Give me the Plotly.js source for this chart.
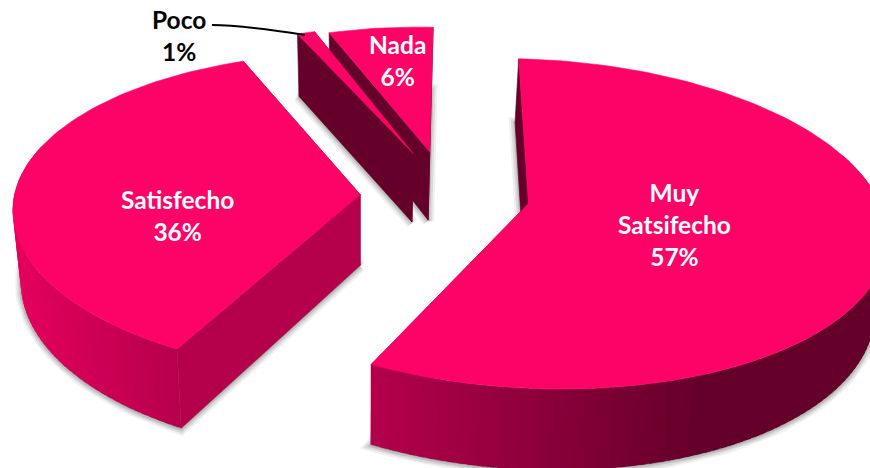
<!DOCTYPE html>
<html>
<head>
<meta charset="utf-8">
<script src="https://cdn.plot.ly/plotly-3.0.1.min.js"></script>
<style>html,body{margin:0;padding:0;background:#fff;overflow:hidden}#chart{width:870px;height:468px}</style>
</head>
<body>
<div id="chart"></div>
<script>
// Data
const sliceNames = ['Muy Satsifecho', 'Satisfecho', 'Poco', 'Nada'];
const sliceValues = [57, 36, 1, 6];

// Look
const explode = [0.22, 0.25, 0.25, 0.25];
const turnNudge = [-1.5, 0, -0.5, -1];
const shiftX = [0.012, -0.004, -0.007, -0.009];
const shiftZ = [-0.005, 0.018, -0.03, -0.03];
const radius = [1, 0.99, 0.94, 0.92];
const topColor = '#fe0367';
const darkColor = [101, 0, 42];
const midColor = [181, 0, 76];
const brightColor = [228, 0, 92];
const faceColors = {start: ['rgb(101,0,42)', 'rgb(181,0,76)', 'rgb(101,0,42)', 'rgb(101,0,42)'],
                    end:   ['rgb(181,0,76)', 'rgb(181,0,76)', 'rgb(101,0,42)', 'rgb(101,0,42)']};

// Projection of the 3D pie (unit radius) onto the page
const cam = {vx: 295, A: 348, p: 0.122, hy: -1116, C: 1306, E: 70.5, baseScale: 0.977, baseCx: 360};
const pivot = {x: 0.44, z: 0.03};
const startAngle = 4.4;
const rad = d => d * Math.PI / 180;

function project(x, z, base) {
  const w = 1 - cam.p * z;
  let X = cam.vx + cam.A * x / w;
  let Y = cam.hy + cam.C / w;
  if (base) { X = cam.baseCx + (X - cam.baseCx) * cam.baseScale; Y += cam.E / w; }
  return [X, Y];
}

const total = sliceValues.reduce((a, b) => a + b, 0);
let cursor = startAngle;
const slices = sliceValues.map((v, i) => {
  const a0 = cursor + turnNudge[i], a1 = cursor + v / total * 360 + turnNudge[i];
  cursor += v / total * 360;
  const mid = rad((a0 + a1) / 2);
  const o = {x: pivot.x + explode[i] * Math.sin(mid) + shiftX[i], z: pivot.z - explode[i] * Math.cos(mid) + shiftZ[i]};
  const r = radius[i];
  const rim = (a, base) => project(o.x + r * Math.sin(rad(a)), o.z - r * Math.cos(rad(a)), base);
  const steps = Math.max(2, Math.ceil((a1 - a0) / 1.5));
  const angles = [];
  for (let k = 0; k <= steps; k++) angles.push(a0 + (a1 - a0) * k / steps);
  return {i, a0, a1, o, rim, angles, apex: b => project(o.x, o.z, b)};
});

function poly(pts, color, lineWidth) {
  const xs = pts.map(p => p[0]), ys = pts.map(p => p[1]);
  xs.push(xs[0]); ys.push(ys[0]);
  return {type: 'scatter', mode: 'lines', x: xs, y: ys, fill: 'toself', fillcolor: color,
          line: {color: color, width: lineWidth === undefined ? 0.6 : lineWidth}, hoverinfo: 'skip', showlegend: false};
}
const mix = (a, b, t) => 'rgb(' + a.map((c, n) => Math.round(c + (b[n] - c) * t)).join(',') + ')';

function sideColor(i, x) {
  if (i === 0) { const t = Math.min(1, Math.max(0, (x - 372) / (700 - 372))); return mix(midColor, darkColor, t); }
  if (i === 1) { const t = Math.min(1, Math.max(0, (x - 15) / (180 - 15))); return mix(brightColor, midColor, t); }
  return mix(darkColor, darkColor, 0);
}

const traces = [];
// soft shadow of the base
[[12, 0.08], [8, 0.12], [4, 0.18]].forEach(([wd, al]) => {
  slices.forEach(s => {
    const pts = [s.apex(true)].concat(s.angles.map(a => s.rim(a, true)));
    traces.push(poly(pts.map(p => [p[0], p[1] + 1]), 'rgba(70,70,70,' + al + ')', wd));
  });
});
// paint back to front
[3, 2, 1, 0].forEach(idx => {
  const s = slices[idx];
  const face = (a, color) => traces.push(poly([s.apex(false), s.rim(a, false), s.rim(a, true), s.apex(true)], color));
  face(s.a1, faceColors.end[idx]);
  face(s.a0, faceColors.start[idx]);
  // outer wall: painted from high angle to low angle, each band running under the next to hide seams
  const span = s.angles.slice(0, -1).map((a, k) => [a, s.angles[k + 1]])
    .filter(([a]) => -Math.cos(rad(a)) > -0.3)
    .sort((p, q) => q[0] - p[0]);
  span.forEach(([a, b]) => {
    const low = Math.max(s.a0, a - 1), pA = s.rim(a, false), pB = s.rim(b, false);
    traces.push(poly([s.rim(low, false), pB, s.rim(b, true), s.rim(low, true)],
      sideColor(idx, (pA[0] + pB[0]) / 2), 0));
  });
  traces.push(poly([s.apex(false)].concat(s.angles.map(a => s.rim(a, false))), topColor));
});

const label = (text, x, y, color) => ({text, x, y, xref: 'x', yref: 'y', showarrow: false, align: 'center',
  font: {family: 'Lato, Carlito, sans-serif', size: 24.5, color: color}});

const layout = {
  width: 870, height: 468, margin: {l: 0, r: 0, t: 0, b: 0},
  paper_bgcolor: '#fff', plot_bgcolor: '#fff', showlegend: false, hovermode: false,
  xaxis: {range: [0, 870], visible: false, fixedrange: true},
  yaxis: {range: [468, 0], visible: false, fixedrange: true},
  shapes: [{type: 'path', path: 'M 212 25 Q 240 25 305 35', line: {color: '#000', width: 1.8}}],
  annotations: [
    label('<b>Muy<br>Satsifecho<br>57%</b>', 674, 224, '#fff'),
    label('<b>Satisfecho<br>36%</b>', 177, 215, '#fff'),
    label('<b>Poco<br>1%</b>', 179, 35, '#000'),
    label('<b>Nada<br>6%</b>', 397, 60, '#fff')
  ]
};
Plotly.newPlot('chart', traces, layout, {displayModeBar: false, staticPlot: true});
</script>
</body>
</html>
